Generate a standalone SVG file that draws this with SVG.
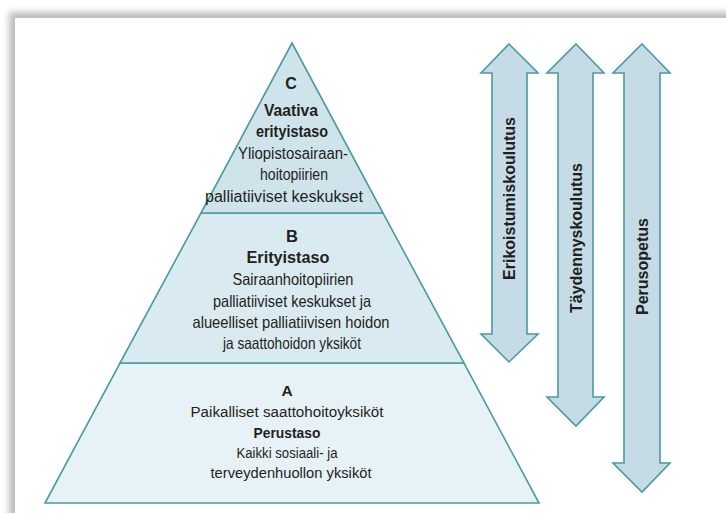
<svg xmlns="http://www.w3.org/2000/svg" width="726" height="513" viewBox="0 0 726 513">
<defs>
<filter id="blur" x="-5%" y="-5%" width="110%" height="110%"><feGaussianBlur stdDeviation="3"/></filter>
<style>
.t{font-family:"Liberation Sans Narrow","Liberation Sans",Arial,sans-serif;font-size:16.5px;fill:#231f20;text-anchor:middle}
.c{font-size:16px}
.a{font-size:15.5px}
.b{font-weight:bold}
.lvl{stroke:#4a9aa3;stroke-width:1.6}
.arr{fill:#c5dce6;stroke:#4a9aa3;stroke-width:1.6;stroke-linejoin:miter}
</style>
</defs>
<rect x="0" y="0" width="726" height="513" fill="#ffffff"/>
<rect x="9" y="12" width="740" height="520" fill="#bdbdbd" filter="url(#blur)"/>
<rect x="15" y="18" width="720" height="500" fill="#ffffff"/>

<g id="level-A">
<polygon class="lvl" points="120,363 464,363 539,503 45,503" fill="#e7f2f6"/>
<text class="t a b" x="287" y="396" font-size="16.5">A</text>
<text class="t a" x="287" y="417" textLength="193" lengthAdjust="spacingAndGlyphs">Paikalliset saattohoitoyksiköt</text>
<text class="t a b" x="287" y="438" textLength="67" lengthAdjust="spacingAndGlyphs">Perustaso</text>
<text class="t a" x="287" y="458" textLength="101" lengthAdjust="spacingAndGlyphs">Kaikki sosiaali- ja</text>
<text class="t a" x="291" y="478" textLength="161" lengthAdjust="spacingAndGlyphs">terveydenhuollon yksiköt</text>
</g>
<g id="level-B">
<polygon class="lvl" points="201,213 383,213 464,363 120,363" fill="#d9eaf0"/>
<text class="t b" x="292" y="242" font-size="17">B</text>
<text class="t b" x="288" y="263" textLength="83" lengthAdjust="spacingAndGlyphs">Erityistaso</text>
<text class="t" x="293" y="285" textLength="121" lengthAdjust="spacingAndGlyphs">Sairaanhoitopiirien</text>
<text class="t" x="292" y="307" textLength="158" lengthAdjust="spacingAndGlyphs">palliatiiviset keskukset ja</text>
<text class="t" x="291" y="328" textLength="197" lengthAdjust="spacingAndGlyphs">alueelliset palliatiivisen hoidon</text>
<text class="t" x="292" y="349" textLength="138" lengthAdjust="spacingAndGlyphs">ja saattohoidon yksiköt</text>
</g>
<g id="level-C">
<polygon class="lvl" points="292,43 383,213 201,213" fill="#cfe3eb"/>
<text class="t c b" x="291" y="89" font-size="16.5">C</text>
<text class="t c b" x="291" y="116" textLength="54" lengthAdjust="spacingAndGlyphs">Vaativa</text>
<text class="t c b" x="292" y="137" textLength="72" lengthAdjust="spacingAndGlyphs">erityistaso</text>
<text class="t c" x="293" y="159" textLength="110" lengthAdjust="spacingAndGlyphs">Yliopistosairaan-</text>
<text class="t c" x="294" y="180" textLength="68" lengthAdjust="spacingAndGlyphs">hoitopiirien</text>
<text class="t c" x="284" y="202" textLength="158" lengthAdjust="spacingAndGlyphs">palliatiiviset keskukset</text>
</g>

<g id="connectors">
<g id="arrow-erikoistumiskoulutus">
<polygon class="arr" points="509,44 538,73 527,73 527,334 538,334 509,362 481,334 492,334 492,73 481,73"/>
<text class="t b" transform="translate(514.5,198.5) rotate(-90)" textLength="163" lengthAdjust="spacingAndGlyphs">Erikoistumiskoulutus</text>
</g>
<g id="arrow-taydennyskoulutus">
<polygon class="arr" points="576,44 604,73 593,73 593,397 604,397 576,426 547,397 558,397 558,73 547,73"/>
<text class="t b" transform="translate(581.5,238) rotate(-90)" textLength="150" lengthAdjust="spacingAndGlyphs">Täydennyskoulutus</text>
</g>
<g id="arrow-perusopetus">
<polygon class="arr" points="642,44 670,73 660,73 660,463 670,463 642,492 613,463 624,463 624,73 613,73"/>
<text class="t b" transform="translate(647.5,266.5) rotate(-90)" textLength="97" lengthAdjust="spacingAndGlyphs">Perusopetus</text>
</g>
</g>
</svg>
